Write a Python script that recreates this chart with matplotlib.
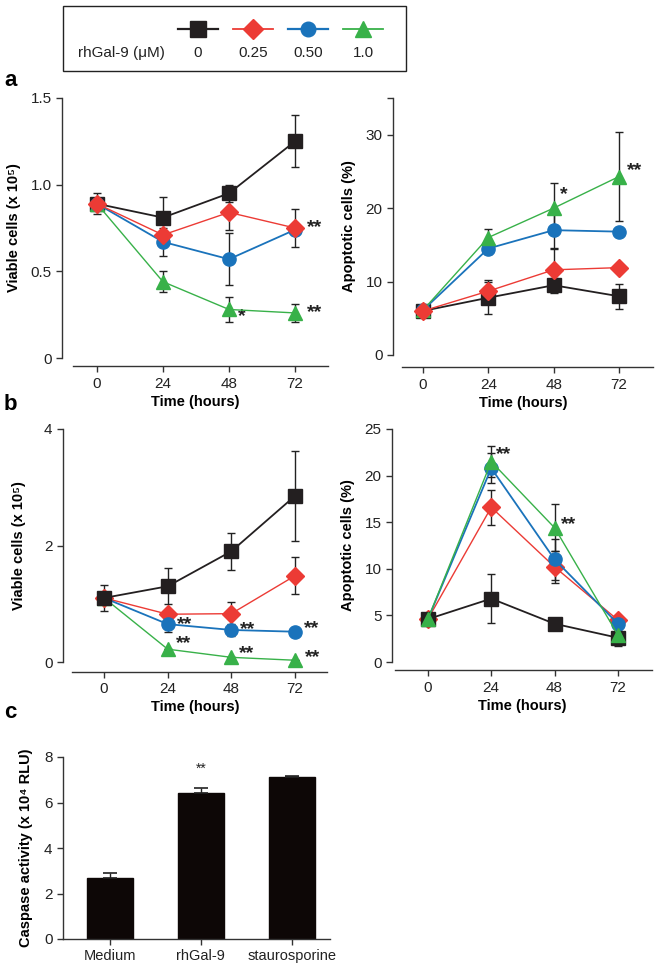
import matplotlib
matplotlib.use('Agg')
import matplotlib.pyplot as plt
from matplotlib.lines import Line2D
from matplotlib.patches import Rectangle

plt.rcParams['font.family'] = ['Liberation Sans', 'DejaVu Sans']

W, H = 665, 969

# data
hours = [0, 24, 48, 72]
doses = ['0', '0.25', '0.50', '1.0']

a_viable = [0.89, 0.81, 0.95, 1.25], [0.89, 0.71, 0.84, 0.75], [0.89, 0.67, 0.57, 0.74], [0.89, 0.44, 0.28, 0.26]
a_viable_err = [0.06, 0.12, 0.05, 0.15], [0, 0.0, 0.10, 0.11], [0, 0.08, 0.15, 0], [0, 0.06, 0.07, 0.05]

a_apop = [6.0, 7.8, 9.5, 8.0], [6.0, 8.7, 11.6, 11.9], [6.1, 14.5, 17.0, 16.8], [6.1, 16.0, 20.0, 24.3]
a_apop_err = [0.7, 2.2, 1.0, 1.7], [0, 1.5, 3.0, 0], [0, 0.8, 2.6, 0], [0, 1.1, 3.4, 6.1]

b_viable = [1.10, 1.30, 1.90, 2.85], [1.10, 0.82, 0.83, 1.48], [1.10, 0.65, 0.55, 0.52], [1.10, 0.22, 0.08, 0.03]
b_viable_err = [0.22, 0.31, 0.32, 0.77], [0, 0.08, 0.20, 0.32], [0, 0.13, 0.10, 0], [0, 0, 0, 0]

b_apop = [4.6, 6.8, 4.1, 2.6], [4.6, 16.6, 10.2, 4.5], [4.6, 20.8, 11.0, 4.1], [4.6, 21.5, 14.4, 2.9]
b_apop_err = [0, 2.6, 0, 0.9], [0, 1.9, 1.7, 0], [0, 1.6, 2.2, 0], [0, 1.7, 2.5, 0.6]

treatments = ['Medium', 'rhGal-9', 'staurosporine']
caspase = [2.7, 6.42, 7.1]
caspase_err = [0.18, 0.2, 0.05]

# significance marks: (series, time index, text, dx px, dy px)
a_viable_sig = [(1, 3, '**', 12, 0), (3, 2, '*', 9, -7), (3, 3, '**', 12, 0)]
a_apop_sig = [(3, 2, '*', 6, 14), (3, 3, '**', 8, 6)]
b_viable_sig = [(2, 1, '**', 9, 0), (2, 2, '**', 9, 0), (2, 3, '**', 9, 3),
                (3, 1, '**', 8, 6), (3, 2, '**', 8, 4), (3, 3, '**', 10, 3)]
b_apop_sig = [(3, 1, '**', 5, 7), (3, 2, '**', 6, 3)]

colors = ['#231f20', '#ec3b35', '#1a73bb', '#38b149']
markers = ['s', 'D', 'o', '^']
msizes = [10, 9, 9.5, 10]
lws = [1.3, 1.0, 1.3, 1.0]

fig = plt.figure(figsize=(W / 100, H / 100), dpi=100)


def px_axes(x0, y0, x1, y1):
    return fig.add_axes([x0 / W, 1 - y1 / H, (x1 - x0) / W, (y1 - y0) / H])


def style(ax, ylim, yticks, xlim, xspine, out, topmark=None):
    for s in ['top', 'right']:
        ax.spines[s].set_visible(False)
    ax.spines['left'].set_bounds(ylim[0], topmark if topmark else ylim[1])
    ax.spines['bottom'].set_position(('outward', out))
    ax.spines['bottom'].set_bounds(*xspine)
    for s in ['left', 'bottom']:
        ax.spines[s].set_linewidth(1.0)
        ax.spines[s].set_color('#333333')
    ax.set_ylim(*ylim)
    ax.set_xlim(*xlim)
    ax.set_yticks(yticks)
    ax.set_xticks(hours)
    ax.tick_params(direction='out', length=4, width=1, labelsize=11, color='#333333', labelcolor='#222222')
    ax.set_xlabel('Time (hours)', fontsize=10.5, fontweight='bold', labelpad=3)


def draw_lines(ax, data, err, order, sig):
    for i in order:
        ax.errorbar(hours, data[i], yerr=err[i], fmt='none', ecolor='#222222',
                    elinewidth=1.0, capsize=3, capthick=1.0, zorder=2 + i * 0.1, clip_on=False)
        ax.plot(hours, data[i], color=colors[i], lw=lws[i], marker=markers[i],
                ms=msizes[i], mec=colors[i], zorder=3 + order.index(i), clip_on=False)
    for i, j, txt, dx, dy in sig:
        ax.annotate(txt, (hours[j], data[i][j]), xytext=(dx, dy), textcoords='offset pixels',
                    ha='left', va='center', fontsize=14, fontweight='bold', color='#222222')


# panel a left
ax1 = px_axes(62, 98, 328, 358)
style(ax1, (0, 1.5), [0, 0.5, 1.0, 1.5], (-12.7, 84), (-8.7, 84), 6)
ax1.set_yticklabels(['0', '0.5', '1.0', '1.5'])
draw_lines(ax1, a_viable, a_viable_err, [0, 3, 2, 1], a_viable_sig)
ax1.set_ylabel('Viable cells (x 10⁵)', fontsize=10.5, fontweight='bold', labelpad=7)

# panel a right
ax2 = px_axes(393, 98, 653, 355)
style(ax2, (0, 35), [0, 10, 20, 30, 35], (-11.0, 84.5), (-7.7, 84.5), 9)
ax2.set_yticklabels(['0', '10', '20', '30', ''])
draw_lines(ax2, a_apop, a_apop_err, [0, 2, 3, 1], a_apop_sig)
ax2.set_ylabel('Apoptotic cells (%)', fontsize=10.5, fontweight='bold', labelpad=7)

# panel b left
ax3 = px_axes(63, 429, 327, 662)
style(ax3, (0, 4), [0, 2, 4], (-15.5, 84.1), (-12.1, 84.1), 7)
draw_lines(ax3, b_viable, b_viable_err, [1, 2, 3, 0], b_viable_sig)
ax3.set_ylabel('Viable cells (x 10⁵)', fontsize=10.5, fontweight='bold', labelpad=13)

# panel b right
ax4 = px_axes(392, 429, 652, 662)
style(ax4, (0, 25), [0, 5, 10, 15, 20, 25], (-13.6, 84.9), (-12.5, 84.9), 6)
draw_lines(ax4, b_apop, b_apop_err, [1, 2, 0, 3], b_apop_sig)
ax4.set_ylabel('Apoptotic cells (%)', fontsize=10.5, fontweight='bold', labelpad=7)

# panel c
ax5 = px_axes(63, 757, 330, 939)
xs = list(range(len(treatments)))
ax5.bar(xs, caspase, width=0.5, color='#0d0706', edgecolor='#0d0706')
ax5.errorbar(xs, caspase, yerr=[[0] * 3, caspase_err], fmt='none', ecolor='#222222',
             elinewidth=1.0, capsize=5, capthick=1.2)
ax5.text(1, caspase[1] + caspase_err[1] + 0.55, '**', ha='center', va='bottom', fontsize=10, color='#222222')
for s in ['top', 'right']:
    ax5.spines[s].set_visible(False)
for s in ['left', 'bottom']:
    ax5.spines[s].set_linewidth(1.0)
    ax5.spines[s].set_color('#333333')
ax5.set_xlim(-0.516, 2.42)
ax5.set_ylim(0, 8)
ax5.set_yticks([0, 2, 4, 6, 8])
ax5.set_xticks(xs)
ax5.set_xticklabels(treatments)
ax5.tick_params(direction='out', length=4, width=1, labelsize=11, color='#333333', labelcolor='#222222')
ax5.tick_params(axis='x', labelsize=10.5)
ax5.set_ylabel('Caspase activity (x 10⁴ RLU)', fontsize=10.5, fontweight='bold', labelpad=8)

# legend box
lg = px_axes(62, 5, 406, 71)
lg.set_xlim(0, 344)
lg.set_ylim(66, 0)
lg.axis('off')
lg.add_patch(Rectangle((0.5, 0.5), 343, 65, fill=False, lw=1.0, ec='#222222', clip_on=False))
hx = [136, 191, 246, 301]
for i in range(4):
    lg.add_line(Line2D([hx[i] - 20, hx[i] + 20], [24, 24], color=colors[i], lw=lws[i] + 0.3))
    lg.plot([hx[i]], [24], marker=markers[i], ms=msizes[i] + 1, color=colors[i], mec=colors[i])
    lg.text(hx[i], 48, doses[i], ha='center', va='center', fontsize=11, color='#222222')
lg.text(16, 48, 'rhGal-9 (μM)', ha='left', va='center', fontsize=11, color='#222222')

# panel letters
for lab, y in [('a', 80), ('b', 405), ('c', 713)]:
    fig.text(4 / W, 1 - y / H, lab, fontsize=16, fontweight='bold', ha='left', va='center')

fig.savefig('out.png', dpi=100)
